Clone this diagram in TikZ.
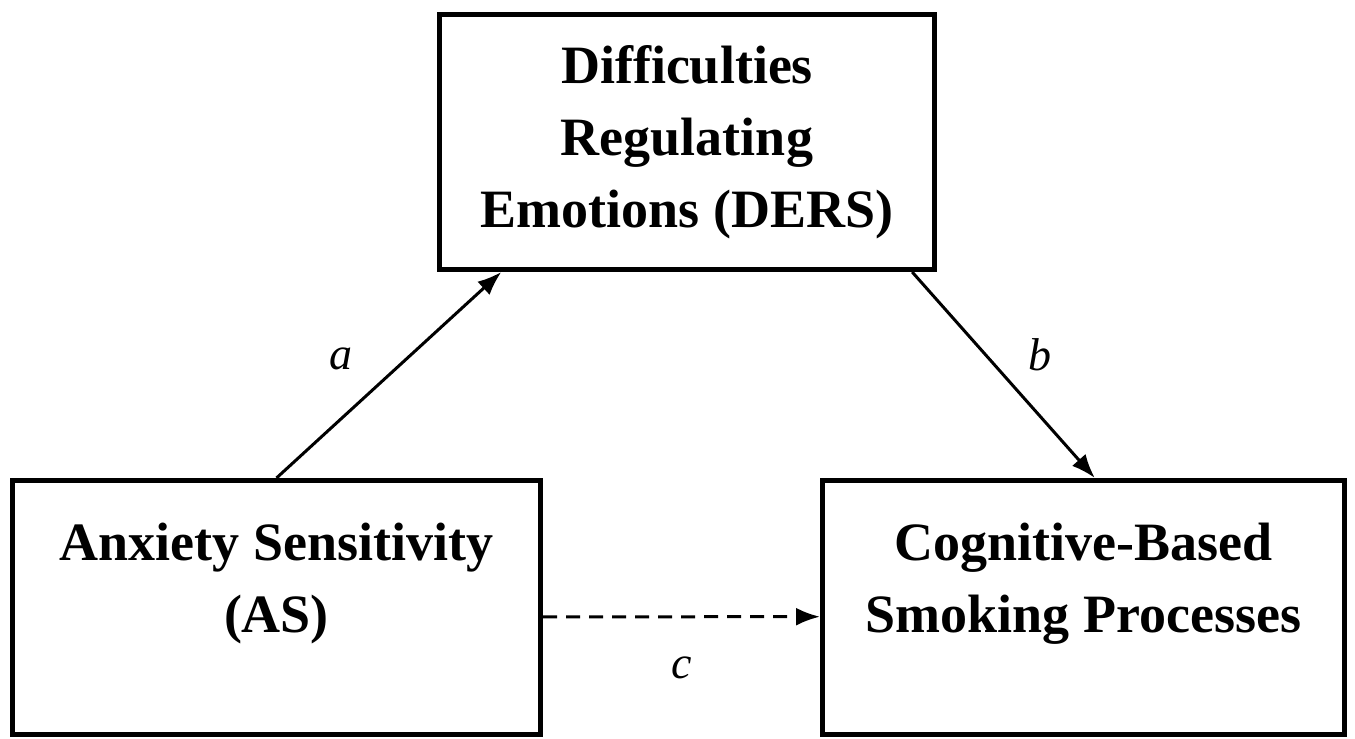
\documentclass[tikz,border=0pt]{standalone}
\usepackage{fontspec}
\setmainfont{Liberation Serif}
\usetikzlibrary{arrows.meta,positioning}

\begin{document}
\begin{tikzpicture}[
    box/.style={rectangle, draw, line width=2.5pt, align=center, font=\fontsize{27}{36}\selectfont\bfseries},
    arrow/.style={-{Latex[length=12pt,width=9pt]}, line width=1.5pt},
    lab/.style={font=\fontsize{23}{28}\selectfont\itshape}
  ]
    \useasboundingbox (0,0) rectangle (677.5pt,-369.5pt);

    \node[box, minimum width=247.5pt, minimum height=127.5pt] (ders) at (343.5pt,-71pt) {Difficulties\\Regulating\\Emotions (DERS)};
    \node[box, minimum width=264pt, minimum height=127pt, below left=103pt and -53pt of ders] (as) {Anxiety Sensitivity\\(AS)\\[-6pt]\mbox{}};
    \node[box, minimum width=261pt, minimum height=127pt, below right=103pt and -58.5pt of ders] (smoking) {Cognitive-Based\\Smoking Processes\\[-6pt]\mbox{}};

    \draw[arrow] (as.north) -- node[lab, xshift=-24pt, yshift=8pt] {a} (ders.215.5);
    \draw[arrow] (ders.330.6) -- node[lab, xshift=18pt, yshift=10pt] {b} (smoking.85);
    \draw[arrow, dash pattern=on 7pt off 4.5pt] (as.-2.2) -- node[lab, yshift=-25.5pt] {c} (smoking.182.2);
  \end{tikzpicture}
\end{document}
